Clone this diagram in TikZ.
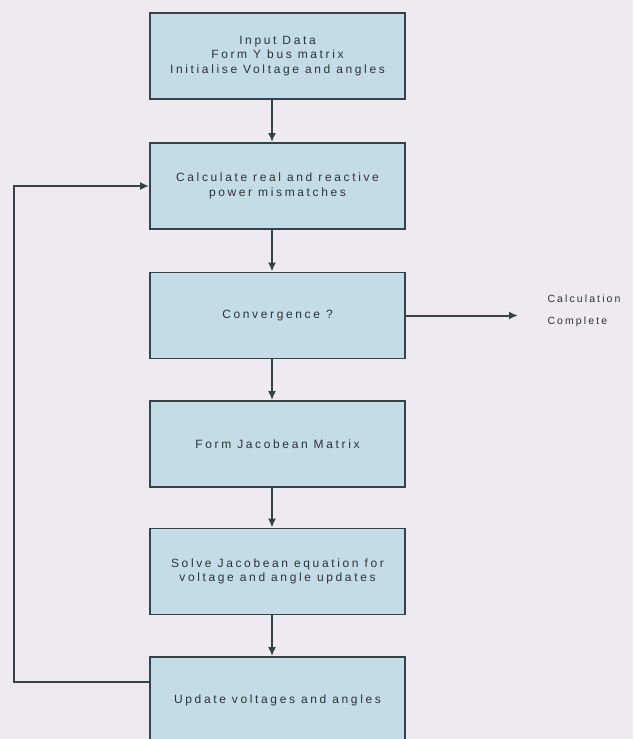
\documentclass[tikz,border=0pt]{standalone}
\usepackage{fontspec}
\setmainfont{Liberation Sans}
\newfontfamily\boxfont{Liberation Sans}[LetterSpace=22]
\newfontfamily\sidefont{Liberation Sans}[LetterSpace=20]
\usetikzlibrary{arrows.meta}
\definecolor{pagegrey}{HTML}{EEEAEF}
\definecolor{boxblue}{HTML}{C3DCE5}
\definecolor{rimgrey}{HTML}{34434A}
\definecolor{inkgrey}{HTML}{2E3236}

\begin{document}
\begin{tikzpicture}[x=1pt, y=-1pt,
  every node/.style={text=inkgrey},
  stepbox/.style={draw=rimgrey, fill=boxblue, line width=1.8pt, minimum width=255pt,
    minimum height=86pt, align=center, font=\boxfont\fontsize{12}{14.5}\selectfont},
  every edge/.style={draw=rimgrey, line width=2pt, -{Latex[length=9pt,width=8pt]}},
  loopline/.style={draw=rimgrey, line width=2pt, -{Latex[length=9pt,width=8pt]}}]

  \clip (0,0) rectangle (633,739);
  \fill[pagegrey] (0,0) rectangle (633,739);

  % Zeichen-Befehle fuer das Ablaufdiagramm
  \coordinate (x1) at (277.5, 56);
  \coordinate (x2) at (277.5, 186);
  \coordinate (x3) at (277.5, 315.5);
  \coordinate (x4) at (277.5, 444);
  \coordinate (x5) at (277.5, 571.5);
  \coordinate (x6) at (277.5, 700);
  \coordinate (xb) at (14, 682);
  \coordinate (xd) at (518, 315.5);
  \node[stepbox] (n1) at (x1) {Input Data\\Form Y bus matrix\\Initialise Voltage and angles};
  \node[stepbox] (n2) at (x2) {Calculate real and reactive\\power mismatches};
  \node[stepbox] (n3) at (x3) {Convergence ?};
  \node[stepbox] (n4) at (x4) {Form Jacobean Matrix};
  \node[stepbox] (n5) at (x5) {Solve Jacobean equation for\\voltage and angle updates};
  \node[stepbox] (n6) at (x6) {Update voltages and angles};
  \node[anchor=west, align=left, font=\sidefont\fontsize{10.5}{22}\selectfont] (fin) at (544, 311) {Calculation\\Complete};
  \draw ([xshift=-5.5pt]n1.south) edge ([xshift=-5.5pt]n2.north);
  \draw ([xshift=-5.5pt]n2.south) edge ([xshift=-5.5pt]n3.north);
  \draw ([xshift=-5.5pt]n3.south) edge ([xshift=-5.5pt]n4.north);
  \draw ([xshift=-5.5pt]n4.south) edge ([xshift=-5.5pt]n5.north);
  \draw ([xshift=-5.5pt]n5.south) edge ([xshift=-5.5pt]n6.north);
  \draw (n3.east) edge (xd);
  \draw[loopline] ([yshift=18pt]n6.west) -- (xb) |- (n2.west);

\end{tikzpicture}
\end{document}
